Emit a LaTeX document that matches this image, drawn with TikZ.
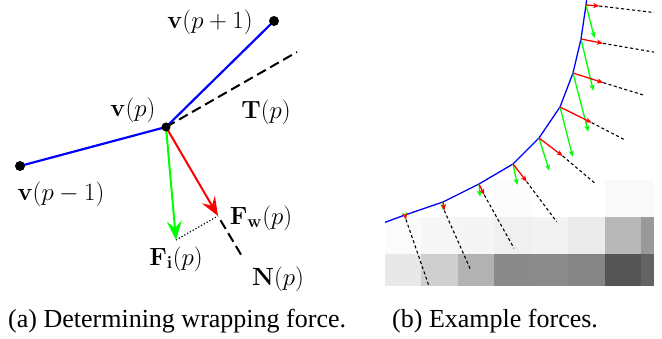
\documentclass[tikz,border=0pt]{standalone}
\usepackage[no-math]{fontspec}
\newfontfamily\capfont{Liberation Serif}
\usetikzlibrary{arrows.meta}
\begin{document}
\begin{tikzpicture}[x=1pt,y=-1pt,
  lbl/.style={inner sep=0pt, font=\fontsize{26}{30}\selectfont},
  captxt/.style={inner sep=0pt, font=\capfont\fontsize{26}{30}\selectfont, anchor=base west},
  vtx/.style={circle, fill=black, draw=none, inner sep=0pt, minimum size=10pt},
  edgeL/.style={blue, line width=2.2pt},
  bigarrow/.style={line width=2pt, -{Stealth[length=19pt,width=15pt,inset=7pt]}},
  longdash/.style={line width=2pt, dash pattern=on 10pt off 5pt},
  edgeR/.style={blue, line width=1.3pt},
  smallarrow/.style={line width=1.3pt, -{Stealth[length=6pt,width=5pt,inset=1.5pt]}},
  shortdash/.style={line width=1.1pt, dash pattern=on 3pt off 2.5pt}
]
\useasboundingbox (0,0) rectangle (662,339);

% ---------------- left panel ----------------
\coordinate (pm) at (20,166);
\coordinate (p0) at (166,127);
\coordinate (pp) at (274,21);
\coordinate (T) at (297,52);
\coordinate (Fw) at (218,216);
\coordinate (Fi) at (176,240);
\coordinate (N) at (243,258);

\draw[edgeL] (pm) -- (p0) -- (pp);
\draw[longdash] (p0) -- (T);
\draw[longdash, dash phase=-5pt] (Fw) -- (N);
\draw[dotted, line width=1.2pt] (Fi) -- (Fw);
\draw[green, bigarrow] (p0) -- (Fi);
\draw[red, bigarrow] (p0) -- (Fw);

\node[vtx] (vm) at (pm) {};
\node[vtx, minimum size=9pt] (v0) at (p0) {};
\node[vtx] (vp) at (pp) {};

\node[lbl] (lvp) at (210,22) {$\mathbf{v}(p+1)$};
\node[lbl] (lv0) at (133,110) {$\mathbf{v}(p)$};
\node[lbl] (lT) at (266,112) {$\mathbf{T}(p)$};
\node[lbl] (lvm) at (61,194) {$\mathbf{v}(p-1)$};
\node[lbl] (lFw) at (261,218) {$\mathbf{F}_{\mathbf{w}}(p)$};
\node[lbl] (lFi) at (176,259) {$\mathbf{F}_{\mathbf{i}}(p)$};
\node[lbl] (lN) at (278,279) {$\mathbf{N}(p)$};

% ---------------- right panel ----------------
\begin{scope}
\clip (385,0) rectangle (654,286);
% image pixels
\fill[black!1] (494,180) rectangle (531,217);
\fill[black!2.5] (605,180) rectangle (654,217);
\foreach \xa/\xb/\ga/\gb in {385/421/1.5/9, 421/458/3/19, 458/494/4/30,
    494/531/6/46, 531/568/5/45.5, 568/605/8/48, 605/641/28/67, 641/654/40/61}{
  \fill[black!\ga] (\xa,217) rectangle (\xb,254);
  \fill[black!\gb] (\xa,254) rectangle (\xb,286);
}
% contour vertices
\coordinate (w0) at (375,226);
\coordinate (w1) at (405,215);
\coordinate (w2) at (443,202);
\coordinate (w3) at (479,184);
\coordinate (w4) at (513,164);
\coordinate (w5) at (539,138);
\coordinate (w6) at (560,107);
\coordinate (w7) at (573,73);
\coordinate (w8) at (581,39);
\coordinate (w9) at (586,5);
\coordinate (w10) at (587,-4);
% wrapping force tips
\coordinate (r1) at (406,219.5);
\coordinate (r2) at (444.3,210.5);
\coordinate (r3) at (484.3,195);
\coordinate (r4) at (526.7,181.7);
\coordinate (r5) at (562.7,156);
\coordinate (r6) at (591.7,122.7);
\coordinate (r7) at (603.3,82.7);
\coordinate (r8) at (603,43.3);
\coordinate (r9) at (599.3,6);
% internal force tips
\coordinate (g1) at (405.5,218.5);
\coordinate (g2) at (443.3,210.5);
\coordinate (g3) at (480,196.7);
\coordinate (g4) at (517.3,185);
\coordinate (g5) at (549.3,170.7);
\coordinate (g6) at (572.7,156.7);
\coordinate (g7) at (588.3,131.7);
\coordinate (g8) at (593.3,90.7);
\coordinate (g9) at (594.5,38);
% normal line ends
\coordinate (d1) at (431,292);
\coordinate (d2) at (470.7,270);
\coordinate (d3) at (514,248.3);
\coordinate (d4) at (556.7,221.7);
\coordinate (d5) at (595,183.3);
\coordinate (d6) at (625,140);
\coordinate (d7) at (643.3,95);
\coordinate (d8) at (662,53.5);
\coordinate (d9) at (662,13.5);

\foreach \i in {1,...,9}{
  \draw[shortdash] (r\i) -- (d\i);
}
\draw[edgeR] (w0) -- (w1) -- (w2) -- (w3) -- (w4) -- (w5) -- (w6) -- (w7) -- (w8) -- (w9) -- (w10);
\foreach \i in {1,...,9}{
  \draw[green, smallarrow] (w\i) -- (g\i);
}
\foreach \i in {1,...,9}{
  \draw[red, smallarrow] (w\i) -- (r\i);
}
\end{scope}

% ---------------- captions ----------------
\node[captxt] (capa) at (8,327) {(a) Determining wrapping force.};
\node[captxt] (capb) at (392,327) {(b) Example forces.};
\end{tikzpicture}
\end{document}
